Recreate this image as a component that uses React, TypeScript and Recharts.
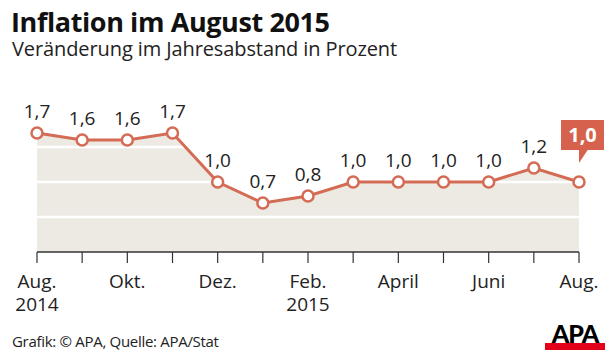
import React from 'react';
import {
  ComposedChart,
  Area,
  Line,
  XAxis,
  YAxis,
  ReferenceLine,
  LabelList,
} from 'recharts';

const months = ['Aug.', 'Sep.', 'Okt.', 'Nov.', 'Dez.', 'Jan.', 'Feb.', 'März', 'April', 'Mai', 'Juni', 'Juli', 'Aug.'];
const years = ['2014', '', '', '', '', '', '2015', '', '', '', '', '', ''];
const inflation = [1.7, 1.6, 1.6, 1.7, 1.0, 0.7, 0.8, 1.0, 1.0, 1.0, 1.0, 1.2, 1.0];
const yTicks = [0, 0.5, 1.0, 1.5];

const FONT = '"Open Sans", Lato, sans-serif';
const RED = '#d46b55';
const BOX = '#d6624e';

const chartData = months.map((m, i) => ({ idx: i, month: m, year: years[i], value: inflation[i] }));

const fmt = (v: number) => v.toFixed(1).replace('.', ',');

const XTick = (props: any) => {
  const { x, y, payload, index } = props;
  if (index % 2 !== 0) return null;
  const d = chartData[payload.value];
  return (
    <text x={x} y={y + 23} textAnchor="middle" fontFamily={FONT} fontSize={19} fill="#222">
      <tspan x={x}>{d.month}</tspan>
      {d.year && (
        <tspan x={x} dy={23}>
          {d.year}
        </tspan>
      )}
    </text>
  );
};

const YTick = (props: any) => {
  const { y, payload } = props;
  if (payload.value >= 1.5) return null;
  return (
    <text x={42} y={y - 4} textAnchor="start" fontFamily={FONT} fontSize={19} fill="#ffffff">
      {fmt(payload.value)}
    </text>
  );
};

const PointLabel = (props: any) => {
  const { x, y, value, index } = props;
  if (index === chartData.length - 1) {
    return (
      <g>
        <rect x={x - 18} y={y - 62} width={43} height={30} fill={BOX} />
        <polygon points={`${x},${y - 32.5} ${x + 9},${y - 32.5} ${x},${y - 19}`} fill={BOX} />
        <text x={x + 3.5} y={y - 40} textAnchor="middle" fontFamily={FONT} fontWeight={700} fontSize={20} fill="#fff">
          {fmt(value)}
        </text>
      </g>
    );
  }
  return (
    <text x={x} y={y - 15} textAnchor="middle" fontFamily={FONT} fontSize={19} fill="#222">
      {fmt(value)}
    </text>
  );
};

export default function App() {
  return (
    <div style={{ position: 'absolute', left: 0, top: 0, width: 616, height: 359, background: '#fff', fontFamily: FONT }}>
      <div style={{ position: 'absolute', left: 11, top: 7, fontSize: 27, lineHeight: '30px', fontWeight: 700, color: '#111', whiteSpace: 'nowrap', letterSpacing: -0.4 }}>
        Inflation im August 2015
      </div>
      <div style={{ position: 'absolute', left: 12, top: 38, fontSize: 20, lineHeight: '22px', color: '#222', whiteSpace: 'nowrap', letterSpacing: -0.1 }}>
        Veränderung im Jahresabstand in Prozent
      </div>
      <ComposedChart
        width={616}
        height={359}
        data={chartData}
        margin={{ top: 112, right: 37, bottom: 77, left: 37 }}
        style={{ position: 'absolute', left: 0, top: 0 }}
      >
        <XAxis
          dataKey="idx"
          type="number"
          domain={[0, 12]}
          ticks={chartData.map((d) => d.idx)}
          interval={0}
          tick={<XTick />}
          tickSize={11}
          height={30}
          axisLine={{ stroke: '#333', strokeWidth: 1.5 }}
          tickLine={{ stroke: '#333', strokeWidth: 1.2 }}
        />
        <YAxis
          domain={[0, 2]}
          ticks={yTicks}
          width={0}
          axisLine={false}
          tickLine={false}
          tick={<YTick />}
        />
        <Area dataKey="value" type="linear" stroke="none" fill="#eceae3" fillOpacity={1} isAnimationActive={false} />
        {yTicks.slice(1).map((t) => (
          <ReferenceLine key={t} y={t} stroke="#ffffff" strokeWidth={2.5} />
        ))}
        <Line
          dataKey="value"
          type="linear"
          stroke={RED}
          strokeWidth={3}
          dot={{ r: 5.5, fill: '#fff', stroke: RED, strokeWidth: 2.5 }}
          isAnimationActive={false}
        >
          <LabelList dataKey="value" content={<PointLabel />} />
        </Line>
      </ComposedChart>
      <div style={{ position: 'absolute', left: 12, top: 331, fontSize: 15, lineHeight: '20px', color: '#222', whiteSpace: 'nowrap', letterSpacing: -0.3 }}>
        Grafik: © APA, Quelle: APA/Stat
      </div>
      <div style={{ position: 'absolute', left: 545, top: 322, width: 60, height: 28 }}>
        <div style={{ fontFamily: 'Lato, sans-serif', fontWeight: 900, fontSize: 25, lineHeight: '22px', color: '#000', textAlign: 'center', letterSpacing: -1 }}>
          APA
        </div>
        <div style={{ position: 'absolute', left: 0, top: 21, width: 60, height: 7, background: '#e3001b' }} />
      </div>
    </div>
  );
}
